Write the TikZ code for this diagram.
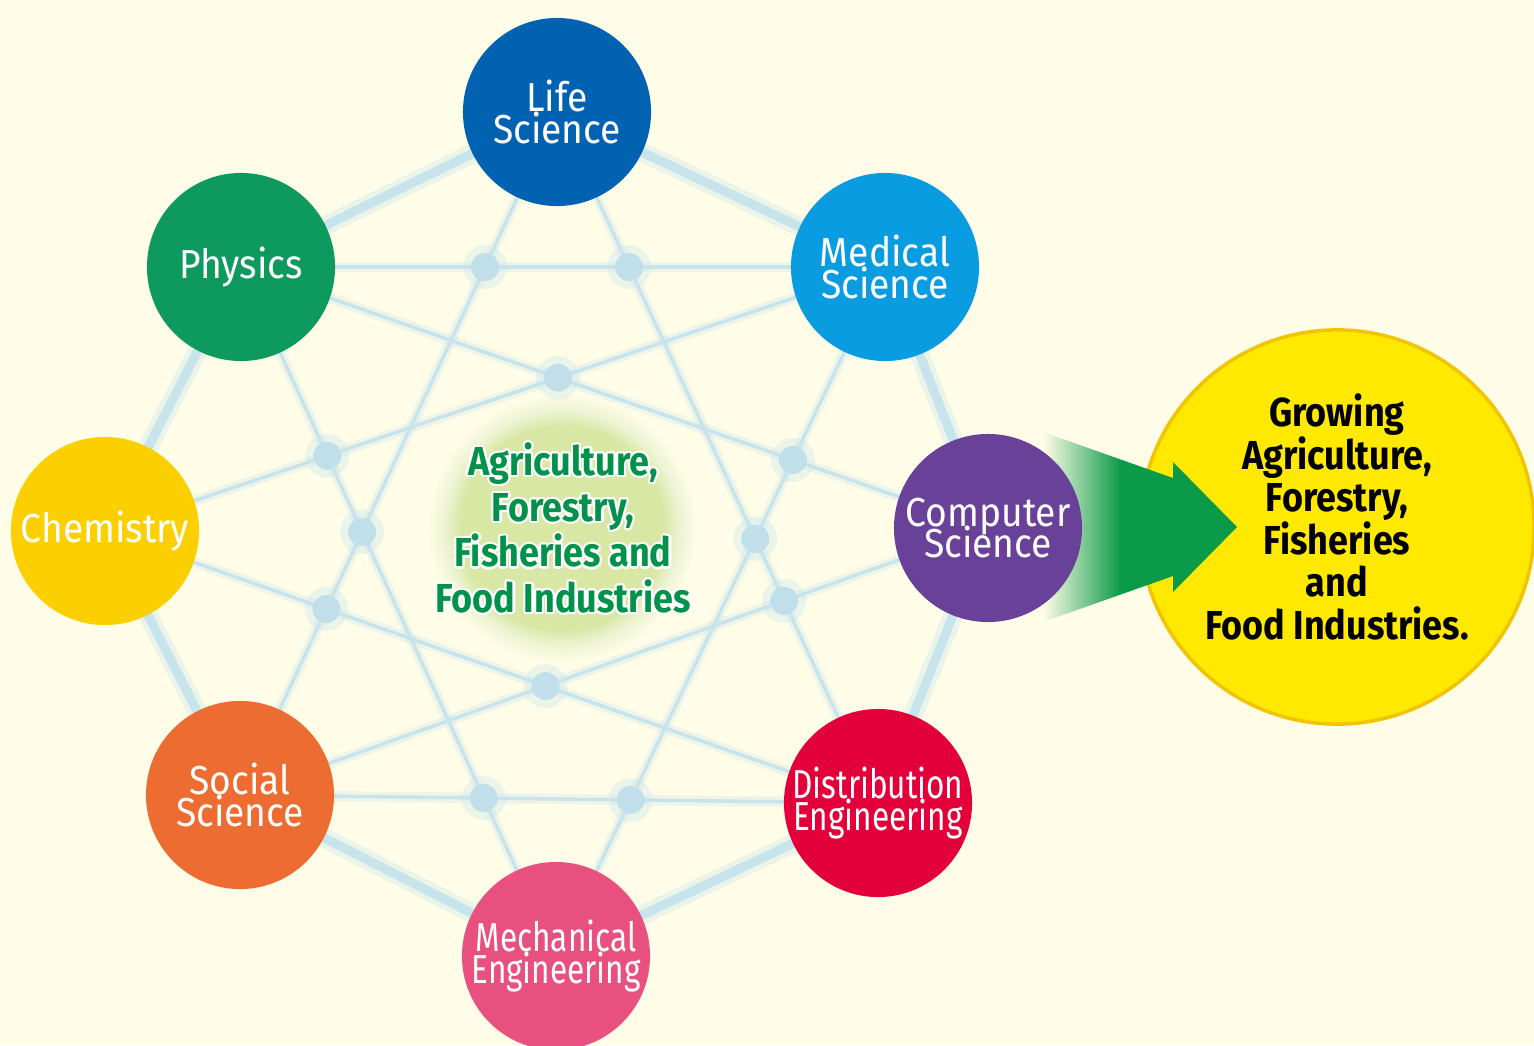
\documentclass[tikz,border=0pt]{standalone}
\usepackage{fontspec}
\newfontfamily\fieldfont[FakeStretch=0.92]{Fira Sans}
\newfontfamily\narrowfont[FakeStretch=0.78]{Fira Sans}
\newfontfamily\hubfont[FakeStretch=0.89]{Fira Sans}
\newcommand\tightlines{\fontsize{11.5}{9}\selectfont\setlength{\lineskiplimit}{-20pt}\relax}
\usetikzlibrary{calc}

\definecolor{bgcream}{HTML}{FFFDE7}
\definecolor{netblue}{HTML}{C7E4EC}
\definecolor{knotblue}{HTML}{C0DFEA}
\definecolor{lifeblue}{HTML}{0062B1}
\definecolor{medblue}{HTML}{0A9CE1}
\definecolor{compurple}{HTML}{6A4199}
\definecolor{distred}{HTML}{E3003A}
\definecolor{mechpink}{HTML}{E8517F}
\definecolor{socorange}{HTML}{EC6C31}
\definecolor{chemyellow}{HTML}{FCD000}
\definecolor{physgreen}{HTML}{0E9A5F}
\definecolor{hubgreen}{HTML}{00914A}
\definecolor{glowgreen}{HTML}{D9E7A5}
\definecolor{arrowgreen}{HTML}{0A9A48}
\definecolor{goalyellow}{HTML}{FFE900}
\definecolor{goalrim}{HTML}{F2C400}

\pgfdeclareradialshading{hubglow}{\pgfpoint{0bp}{0bp}}{%
  color(0bp)=(glowgreen); color(17bp)=(glowgreen);
  color(19.5bp)=(glowgreen!50!white); color(22.5bp)=(bgcream); color(50bp)=(bgcream)}
\pgfdeclarehorizontalshading{arrowfade}{100bp}{%
  color(0bp)=(bgcream); color(25bp)=(bgcream);
  color(45bp)=(arrowgreen); color(100bp)=(arrowgreen)}

\newcommand\hubtext{Agriculture,\\Forestry,\\Fisheries and\\Food Industries}

\begin{document}
\begin{tikzpicture}[x=0.01cm, y=-0.01cm,
		field/.style={circle, minimum size=1.88cm, inner sep=-1cm, text=white, align=center,
			font=\fieldfont\tightlines},
		narrow/.style={font=\narrowfont\tightlines},
		ring/.style={netblue, line width=2.6pt, line cap=round},
		ringhalo/.style={netblue, line width=5.5pt, opacity=.35},
		link/.style={netblue, line width=1pt},
		linkhalo/.style={netblue, line width=3pt, opacity=.3},
		hub/.style={align=center, text=hubgreen, font=\hubfont\bfseries\fontsize{11.5}{13}\selectfont},
		goal/.style={circle, minimum size=3.94cm, fill=goalyellow, draw=goalrim, line width=1pt},
		goaltext/.style={align=center, font=\hubfont\bfseries\fontsize{11.5}{12.1}\selectfont}]
		\fill [bgcream] (0,0) rectangle (1534,1045);
		\useasboundingbox (0,0) rectangle (1534,1045);
		% centres of the eight fields
		\coordinate (life) at (557,112);
		\coordinate (med) at (885,267);
		\coordinate (comp) at (988,528);
		\coordinate (dist) at (878,803);
		\coordinate (mech) at (556,956);
		\coordinate (soc) at (240,795);
		\coordinate (chem) at (105,531);
		\coordinate (phys) at (241,267);
		\shade [shading=hubglow] (562,528) circle (150);
		% network
		\foreach \a/\b in {life/med, med/comp, comp/dist, dist/mech, mech/soc, soc/chem, chem/phys, phys/life}
			{\draw [ringhalo] (\a) -- (\b); \draw [ring] (\a) -- (\b);}
		\foreach \a/\b in {life/dist, life/soc, med/mech, med/chem, comp/soc, comp/phys, dist/chem, mech/phys, phys/med, soc/dist}
			{\draw [linkhalo] (\a) -- (\b); \draw [link] (\a) -- (\b);}
		\coordinate (k1) at (intersection of life--soc and phys--med);
		\coordinate (k2) at (intersection of life--dist and phys--med);
		\coordinate (k3) at (intersection of phys--comp and med--chem);
		\coordinate (k4) at (intersection of phys--mech and med--chem);
		\coordinate (k5) at (intersection of phys--mech and life--soc);
		\coordinate (k6) at (intersection of life--soc and dist--chem);
		\coordinate (k7) at (intersection of med--mech and phys--comp);
		\coordinate (k8) at (intersection of med--mech and life--dist);
		\coordinate (k9) at (intersection of life--dist and comp--soc);
		\coordinate (k10) at (intersection of dist--chem and comp--soc);
		\coordinate (k11) at (intersection of phys--mech and soc--dist);
		\coordinate (k12) at (intersection of med--mech and soc--dist);
		\foreach \k in {1,...,12}
			{\fill [netblue, opacity=.35] (k\k) circle (22);
			\fill [knotblue] (k\k) circle (14);}
		% result
		\node [goal] (goal) at (1337,527) {};
		\shade [shading=arrowfade] (1043,432) -- (1173,478) -- (1173,462) -- (1237,527)
			-- (1173,592) -- (1173,576) -- (1043,622) -- cycle;
		\node [goaltext] (goaltext) at (1337,517) {Growing\\Agriculture,\\Forestry,\\Fisheries\\and\\Food Industries.};
		% fields
		\node [field, fill=lifeblue] (lifesci) at (life) {Life\\Science};
		\node [field, fill=medblue] (medsci) at (med) {Medical\\Science};
		\node [field, fill=compurple] (compsci) at (comp) {Computer\\Science};
		\node [field, narrow, fill=distred] (disteng) at (dist) {Distribution\\Engineering};
		\node [field, narrow, fill=mechpink] (mecheng) at (mech) {Mechanical\\Engineering};
		\node [field, fill=socorange] (socsci) at (soc) {Social\\Science};
		\node [field, fill=chemyellow] (chemistry) at (chem) {Chemistry};
		\node [field, fill=physgreen] (physics) at (phys) {Physics};
		% hub text with white rim
		\foreach \a in {0,30,...,330}
			\node [hub, text=white] (halo\a) at ([shift={(\a:2.2)}]563,528) {\hubtext};
		\node [hub] (hub) at (563,528) {\hubtext};
	\end{tikzpicture}
\end{document}
